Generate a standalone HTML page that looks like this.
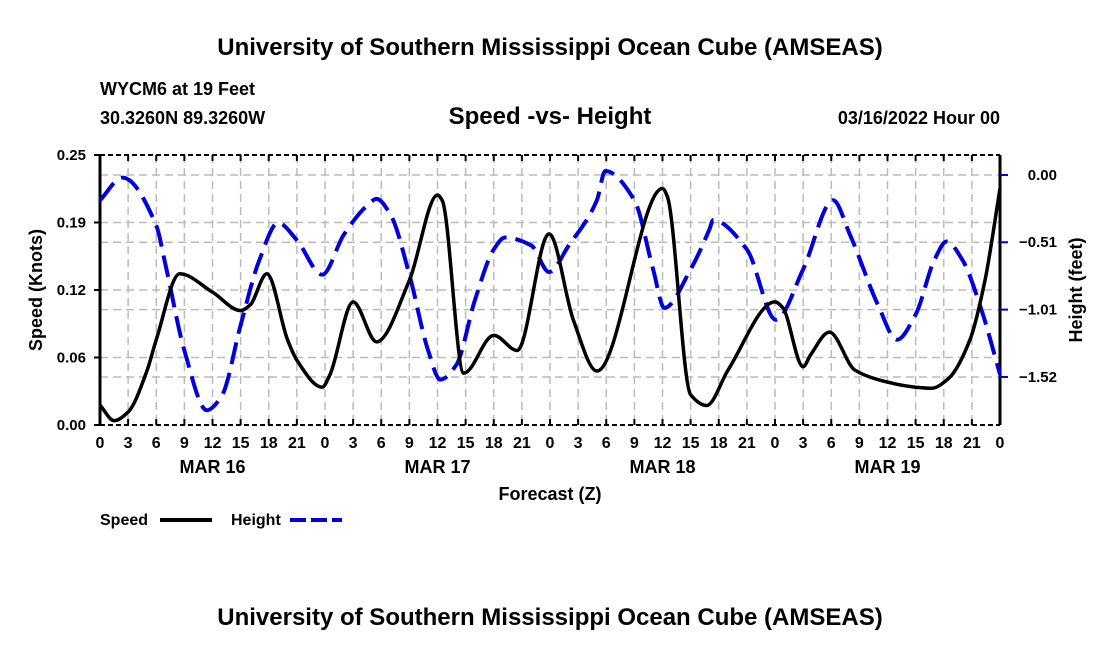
<!DOCTYPE html>
<html><head><meta charset="utf-8"><style>
body{margin:0;background:#fff;}
svg text{font-family:"Liberation Sans",sans-serif;font-weight:bold;fill:#000;}
</style></head><body>
<svg id="chart" width="1100" height="650" xmlns="http://www.w3.org/2000/svg">
<text x="550" y="55" text-anchor="middle" font-size="24">University of Southern Mississippi Ocean Cube (AMSEAS)</text>
<text x="100" y="95" font-size="18">WYCM6 at 19 Feet</text>
<text x="100" y="124" font-size="18">30.3260N  89.3260W</text>
<text x="550" y="124" text-anchor="middle" font-size="24">Speed -vs- Height</text>
<text x="1000" y="124" text-anchor="end" font-size="18">03/16/2022 Hour 00</text>
<text x="550" y="625" text-anchor="middle" font-size="24">University of Southern Mississippi Ocean Cube (AMSEAS)</text>
<g id="grid"></g>
<g id="axes"></g>
<g id="series"></g>
<text x="550" y="500" text-anchor="middle" font-size="18">Forecast (Z)</text>
<text transform="translate(42,290) rotate(-90)" text-anchor="middle" font-size="18">Speed (Knots)</text>
<text transform="translate(1082,290) rotate(-90)" text-anchor="middle" font-size="18">Height (feet)</text>
<g>
<text x="100" y="525" font-size="16">Speed</text>
<line x1="160" y1="520" x2="212" y2="520" stroke="#000" stroke-width="4"/>
<text x="231" y="525" font-size="16">Height</text>
<line x1="290" y1="520" x2="342" y2="520" stroke="#0000dd" stroke-width="4" stroke-dasharray="16,5"/>
</g>
</svg>
<script>
const speedHours=[0,1.5,3,5,6,8.5,12,15,16,17.8,20,21,23.7,24.5,27,29.5,33,36,36.5,38.8,42,44.5,47.9,50.5,53,60,60.5,63,64.7,67,72,72.8,75,75.8,77.8,80.5,83,87,88.7,90.5,92.8,94.4,96];
const speedValues=[0.0185,0.004,0.012,0.05,0.079,0.14,0.123,0.106,0.111,0.14,0.079,0.06,0.035,0.046,0.114,0.077,0.134,0.213,0.208,0.048,0.083,0.069,0.177,0.097,0.05,0.219,0.212,0.028,0.018,0.051,0.114,0.109,0.054,0.065,0.086,0.051,0.042,0.035,0.034,0.043,0.079,0.134,0.219];
const heightHours=[0,2.4,6,7,9,11.4,13,15,17,19,21,23.7,26,28.5,29.5,31,33,35,36.3,38,40,42,43.2,46,47.9,50,53,53.9,57,59,60.2,63,65,65.4,69,72.1,75,78.2,80,83,85,87,89,90.3,92,94,96];
const heightValues=[-0.19,-0.02,-0.38,-0.68,-1.32,-1.77,-1.66,-1.13,-0.64,-0.36,-0.49,-0.75,-0.45,-0.23,-0.18,-0.30,-0.75,-1.32,-1.54,-1.43,-0.94,-0.56,-0.47,-0.53,-0.73,-0.53,-0.19,0.03,-0.19,-0.71,-1.00,-0.71,-0.41,-0.34,-0.56,-1.09,-0.71,-0.19,-0.45,-0.98,-1.24,-1.05,-0.64,-0.50,-0.64,-1.01,-1.50];
const speedTicks=[0,0.0625,0.125,0.1875,0.25];
const speedTickLabels=["0.00","0.06","0.12","0.19","0.25"];
const heightTicks=[0,-0.506,-1.013,-1.52];
const heightTickLabels=["0.00","\u22120.51","\u22121.01","\u22121.52"];
const hourLabels=["0","3","6","9","12","15","18","21"];
const dayLabels=["MAR 16","MAR 17","MAR 18","MAR 19"];

const X0=100,X1=1000,YT=155,YB=425;
const xs=h=>X0+h*(X1-X0)/96;
const ys=v=>YB-v*(YB-YT)/0.25;
const yh=v=>175-v*(377-175)/1.52;
const NS="http://www.w3.org/2000/svg";
function mk(tag,parent,attrs){const e=document.createElementNS(NS,tag);for(const k in attrs)e.setAttribute(k,attrs[k]);parent.appendChild(e);return e;}
const grid=document.getElementById('grid'),axes=document.getElementById('axes'),series=document.getElementById('series');
for(let h=3;h<96;h+=3){const l=mk('line',grid,{x1:xs(h),x2:xs(h),y1:YT,y2:YB,stroke:'#bbb','stroke-width':1.5,'stroke-dasharray':'8,5'});

}
speedTicks.slice(1,-1).forEach(v=>{const l=mk('line',grid,{x1:X0,x2:X1,y1:ys(v),y2:ys(v),stroke:'#bbb','stroke-width':1.5,'stroke-dasharray':'8,5'});

});
heightTicks.forEach(v=>{const l=mk('line',grid,{x1:X0,x2:X1,y1:yh(v),y2:yh(v),stroke:'#bbb','stroke-width':1.5,'stroke-dasharray':'8,5'});

});
[[X0,YT,X0,YB,3],[X1,YT,X1,YB,3]].forEach(a=>{const l=mk('line',axes,{x1:a[0],y1:a[1],x2:a[2],y2:a[3],stroke:'#000','stroke-width':a[4]});

});
[YT,YB].forEach(y=>{const l=mk('line',axes,{x1:X0,x2:X1,y1:y,y2:y,stroke:'#000','stroke-width':2,'stroke-dasharray':'5,3'});

});
for(let h=0;h<=96;h+=3){
 const t=mk('line',axes,{x1:xs(h),x2:xs(h),y1:YB,y2:YB-6,stroke:'#000','stroke-width':2});
 
 
 const tt=mk('line',axes,{x1:xs(h),x2:xs(h),y1:YT,y2:YT+6,stroke:'#000','stroke-width':2});
 
 
 const tx=mk('text',axes,{x:xs(h),y:YB+23,'text-anchor':'middle','font-size':16});
 tx.textContent=hourLabels[(h/3)%8];
 
 
}
dayLabels.forEach((d,i)=>{const t=mk('text',axes,{x:xs(12+24*i),y:YB+48,'text-anchor':'middle','font-size':18});t.textContent=d;

});
speedTicks.forEach((v,i)=>{const t=mk('line',axes,{x1:X0-6,x2:X0,y1:ys(v),y2:ys(v),stroke:'#000','stroke-width':2});


const tx=mk('text',axes,{x:X0-14,y:ys(v)+5,'text-anchor':'end','font-size':15});tx.textContent=speedTickLabels[i];

});
heightTicks.forEach((v,i)=>{const t=mk('line',axes,{x1:X1,x2:X1+8,y1:yh(v),y2:yh(v),stroke:'#0000dd','stroke-width':2});


const tx=mk('text',axes,{x:X1+57,y:yh(v)+5,'text-anchor':'end','font-size':15});tx.textContent=heightTickLabels[i];

});
function monotone(pts){
 const n=pts.length,dx=[],m=[],t=[];
 for(let i=0;i<n-1;i++){dx[i]=pts[i+1][0]-pts[i][0];m[i]=(pts[i+1][1]-pts[i][1])/dx[i];}
 t[0]=m[0];t[n-1]=m[n-2];
 for(let i=1;i<n-1;i++){ if(m[i-1]*m[i]<=0)t[i]=0; else {const w1=2*dx[i]+dx[i-1],w2=dx[i]+2*dx[i-1];t[i]=(w1+w2)/(w1/m[i-1]+w2/m[i]);}}
 let d=`M${pts[0][0]},${pts[0][1]}`;
 for(let i=0;i<n-1;i++){const h=dx[i]/3;d+=` C${pts[i][0]+h},${pts[i][1]+t[i]*h} ${pts[i+1][0]-h},${pts[i+1][1]-t[i+1]*h} ${pts[i+1][0]},${pts[i+1][1]}`;}
 return d;}
const hp=mk('path',series,{d:monotone(heightHours.map((h,i)=>[xs(h),yh(heightValues[i])])),fill:'none',stroke:'#0000dd','stroke-width':4,'stroke-dasharray':'22,9'});


const sp=mk('path',series,{d:monotone(speedHours.map((h,i)=>[xs(h),ys(speedValues[i])])),fill:'none',stroke:'#000','stroke-width':3.5,'stroke-linejoin':'round'});


</script>
</body></html>
